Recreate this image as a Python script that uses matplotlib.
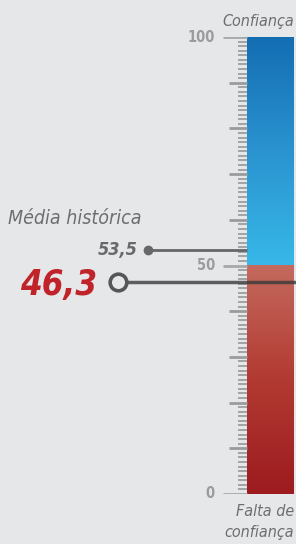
import numpy as np
import matplotlib
matplotlib.use("Agg")
import matplotlib.pyplot as plt
from matplotlib.colors import LinearSegmentedColormap

# ---------------- data ----------------
scale_min, scale_max = 0, 100
split_value = 50
labelled_ticks = [0, 50, 100]
historical_avg = 53.5
current_value = 46.3
avg_label = "Média histórica"
top_label = "Confiança"
bottom_label = "Falta de\nconfiança"

# ---------------- style ----------------
bg = "#e6e7e8"
plt.rcParams["font.family"] = ["DejaVu Sans"]
plt.rcParams["font.stretch"] = "condensed"

fig = plt.figure(figsize=(2.96, 5.44), dpi=100, facecolor=bg)
ax = fig.add_axes([0, 50 / 544, 1, 457 / 544])
ax.set_facecolor(bg)
ax.set_xlim(0, 296)
ax.set_ylim(scale_min, scale_max)
ax.axis("off")

bar_x0, bar_x1 = 247, 294

# gradient bar, blue above split, red below
blue = LinearSegmentedColormap.from_list("b", ["#37b8e8", "#2a93d0", "#136db2"])
red = LinearSegmentedColormap.from_list("r", ["#9d1b1f", "#b23a32", "#c46a5e"])
grad = np.linspace(0, 1, 256).reshape(-1, 1)
ax.imshow(grad, cmap=blue, origin="lower", aspect="auto",
          extent=[bar_x0, bar_x1, split_value, scale_max], zorder=1)
ax.imshow(grad, cmap=red, origin="lower", aspect="auto",
          extent=[bar_x0, bar_x1, scale_min, split_value], zorder=1)

# ticks
vals = np.arange(scale_min, scale_max + 1)
for v in vals:
    if v in labelled_ticks:
        ax.plot([223, bar_x0], [v, v], color="#a7a8aa", lw=2, solid_capstyle="butt")
        ax.text(215, v, str(v), ha="right", va="center", fontsize=10.5,
                fontweight="bold", color="#9a9b9d")
    elif v % 10 == 0:
        ax.plot([229, bar_x0], [v, v], color="#9a9b9d", lw=2, solid_capstyle="butt")
    else:
        ax.plot([238, bar_x0], [v, v], color="#a2a3a5", lw=1.4, solid_capstyle="butt")

# historical average
ax.plot([148, bar_x0], [historical_avg, historical_avg], color="#666769", lw=2,
        solid_capstyle="butt", zorder=3)
ax.plot([148], [historical_avg], "o", ms=6, color="#666769", zorder=4)
ax.text(138, historical_avg - 0.2, f"{historical_avg:.1f}".replace(".", ","),
        ha="right", va="center", fontsize=13, fontweight="bold", style="italic",
        color="#68696b")
ax.text(8, 60.2, avg_label, ha="left", va="center", fontsize=14,
        style="italic", color="#6d6e70")

# current value
ax.plot([118, 296], [current_value, current_value], color="#3a3a3a", lw=2.5,
        alpha=0.8, solid_capstyle="butt", zorder=3, clip_on=False)
ax.plot([118], [current_value], "o", ms=12, mfc=bg, mec="#555658", mew=2.6, zorder=4)
ax.text(97, current_value - 0.6, f"{current_value:.1f}".replace(".", ","),
        ha="right", va="center", fontsize=25, fontweight="bold", style="italic",
        color="#c1232b")

# end labels
ax.text(294, 103.5, top_label, ha="right", va="center", fontsize=11.5,
        style="italic", color="#6d6e70", clip_on=False)
ax.text(294, -2.2, bottom_label, ha="right", va="top", fontsize=11.5,
        style="italic", color="#6d6e70", linespacing=1.5, clip_on=False)

fig.savefig("out.png", dpi=100, facecolor=bg)
